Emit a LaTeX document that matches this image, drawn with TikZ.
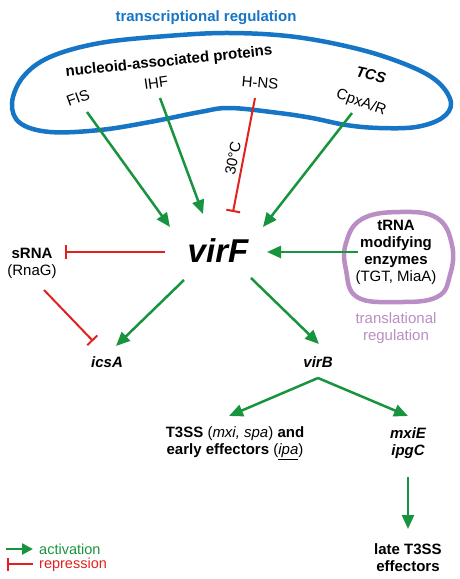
\documentclass[tikz,border=0pt]{standalone}
\usepackage{fontspec}
\setmainfont{Liberation Sans}
\usetikzlibrary{arrows.meta}
\definecolor{tblue}{RGB}{22,117,196}
\definecolor{agreen}{RGB}{24,148,62}
\definecolor{rred}{RGB}{226,32,30}
\definecolor{tpurple}{RGB}{186,142,196}
\begin{document}
\begin{tikzpicture}[x=1pt,y=-1pt,
  lbl/.style={inner sep=0pt, align=center, font=\fontsize{15}{17}\selectfont},
  blbl/.style={inner sep=0pt, align=center, font=\fontsize{15}{17}\selectfont\bfseries},
  bilbl/.style={inner sep=0pt, align=center, font=\fontsize{15}{17}\selectfont\bfseries\itshape},
  act/.style={draw=agreen, line width=2.5pt, -{Triangle[length=14pt,width=12pt]}},
  rep/.style={draw=rred, line width=2pt, -{Bar[width=14pt]}},
  blob/.style={line width=4.5pt}
]
\useasboundingbox (0,0) rectangle (459,579);

% transcriptional regulation blob
\draw[blob, draw=tblue] plot[smooth cycle, tension=0.6] coordinates {
 (12,103) (23,77) (50,57) (100,43) (167,36) (230,33) (296,37) (362,50)
 (412,67) (439,83) (451,103) (442,118) (416,127) (379,128) (346,125)
 (312,118) (279,113) (230,108) (200,112) (150,122) (100,130) (50,132) (20,123)};
\node[blbl, text=tblue] (treg) at (206,18) {transcriptional regulation};
\node[blbl, rotate=6] (nap) at (169,62) {nucleoid-associated proteins};
\node[lbl, rotate=20] (fis) at (78,98) {FIS};
\node[lbl, rotate=8] (ihf) at (156,83) {IHF};
\node[lbl, rotate=-5] (hns) at (260,83) {H-NS};
\node[bilbl, rotate=-12] (tcs) at (371,75) {TCS};
\node[lbl, rotate=-20] (cpx) at (361,103) {CpxA/R};

% virF
\node[inner sep=0pt, font=\fontsize{33}{36}\selectfont\bfseries\itshape] (virf) at (218,251) {virF};

% tRNA blob
\draw[blob, draw=tpurple] plot[smooth cycle, tension=0.7] coordinates {
 (400,212) (437,218) (452,245) (450,275) (437,297) (397,302) (357,297) (346,270) (346,243) (362,219)};
\node[lbl] (trna) at (396,252) {\textbf{tRNA}\\\textbf{modifying}\\\textbf{enzymes}\\(TGT, MiaA)};
\node[lbl, text=tpurple] (tlreg) at (396,328) {translational\\regulation};

% sRNA
\node[lbl] (srna) at (32,263) {\textbf{sRNA}\\(RnaG)};

% targets
\node[bilbl] (icsa) at (107,362) {icsA};
\node[bilbl] (virb) at (318,362) {virB};
\node[lbl] (t3ss) at (235,443) {\textbf{T3SS} (\textit{mxi, spa}) \textbf{and}\\\textbf{early effectors} (\underline{\textit{ipa}})};
\node[bilbl] (mxie) at (408,443) {mxiE\\ipgC};
\node[blbl] (late) at (408,558) {late T3SS\\effectors};

% connector end points
\coordinate (fisS) at (87,112);   \coordinate (fisE) at (170,227);
\coordinate (ihfS) at (160,98);   \coordinate (ihfE) at (203,214);
\coordinate (hnsS) at (255,98);   \coordinate (hnsE) at (233,212);
\coordinate (cpxS) at (352,113);  \coordinate (cpxE) at (263,227);
\coordinate (trnaS) at (358,252); \coordinate (trnaE) at (267,252);
\coordinate (vsS) at (165,252);   \coordinate (vsE) at (65,252);
\coordinate (siS) at (44,290);    \coordinate (siE) at (93,341);
\coordinate (viS) at (184,280);   \coordinate (viE) at (116,346);
\coordinate (vbS) at (251,278);   \coordinate (vbE) at (319,344);
\coordinate (split) at (318,378);
\coordinate (t3E) at (229,416);   \coordinate (mxE) at (408,416);
\coordinate (mlS) at (408,477);   \coordinate (mlE) at (408,529);

\draw[act] (fisS) -- (fisE);
\draw[act] (ihfS) -- (ihfE);
\draw[rep] (hnsS) -- (hnsE);
\node[lbl, rotate=79] (temp) at (233,158) {30°C};
\draw[act] (cpxS) -- (cpxE);
\draw[act] (trnaS) -- (trnaE);
\draw[rep] (vsS) -- (vsE);
\draw[rep] (siS) -- (siE);
\draw[act] (viS) -- (viE);
\draw[act] (vbS) -- (vbE);
\draw[act] (split) -- (t3E);
\draw[act] (split) -- (mxE);
\draw[act] (mlS) -- (mlE);

% legend
\coordinate (la1) at (6,549); \coordinate (la2) at (33,549);
\coordinate (lr1) at (33,564); \coordinate (lr2) at (7,564);
\draw[act, -{Triangle[length=11pt,width=11pt]}] (la1) -- (la2);
\draw[rep, -{Bar[width=13pt]}] (lr1) -- (lr2);
\node[lbl, anchor=west, text=agreen, font=\fontsize{14.5}{17}\selectfont] (lact) at (39,549) {activation};
\node[lbl, anchor=west, text=rred, font=\fontsize{14.5}{17}\selectfont] (lrep) at (39,565) {repression};
\end{tikzpicture}
\end{document}
